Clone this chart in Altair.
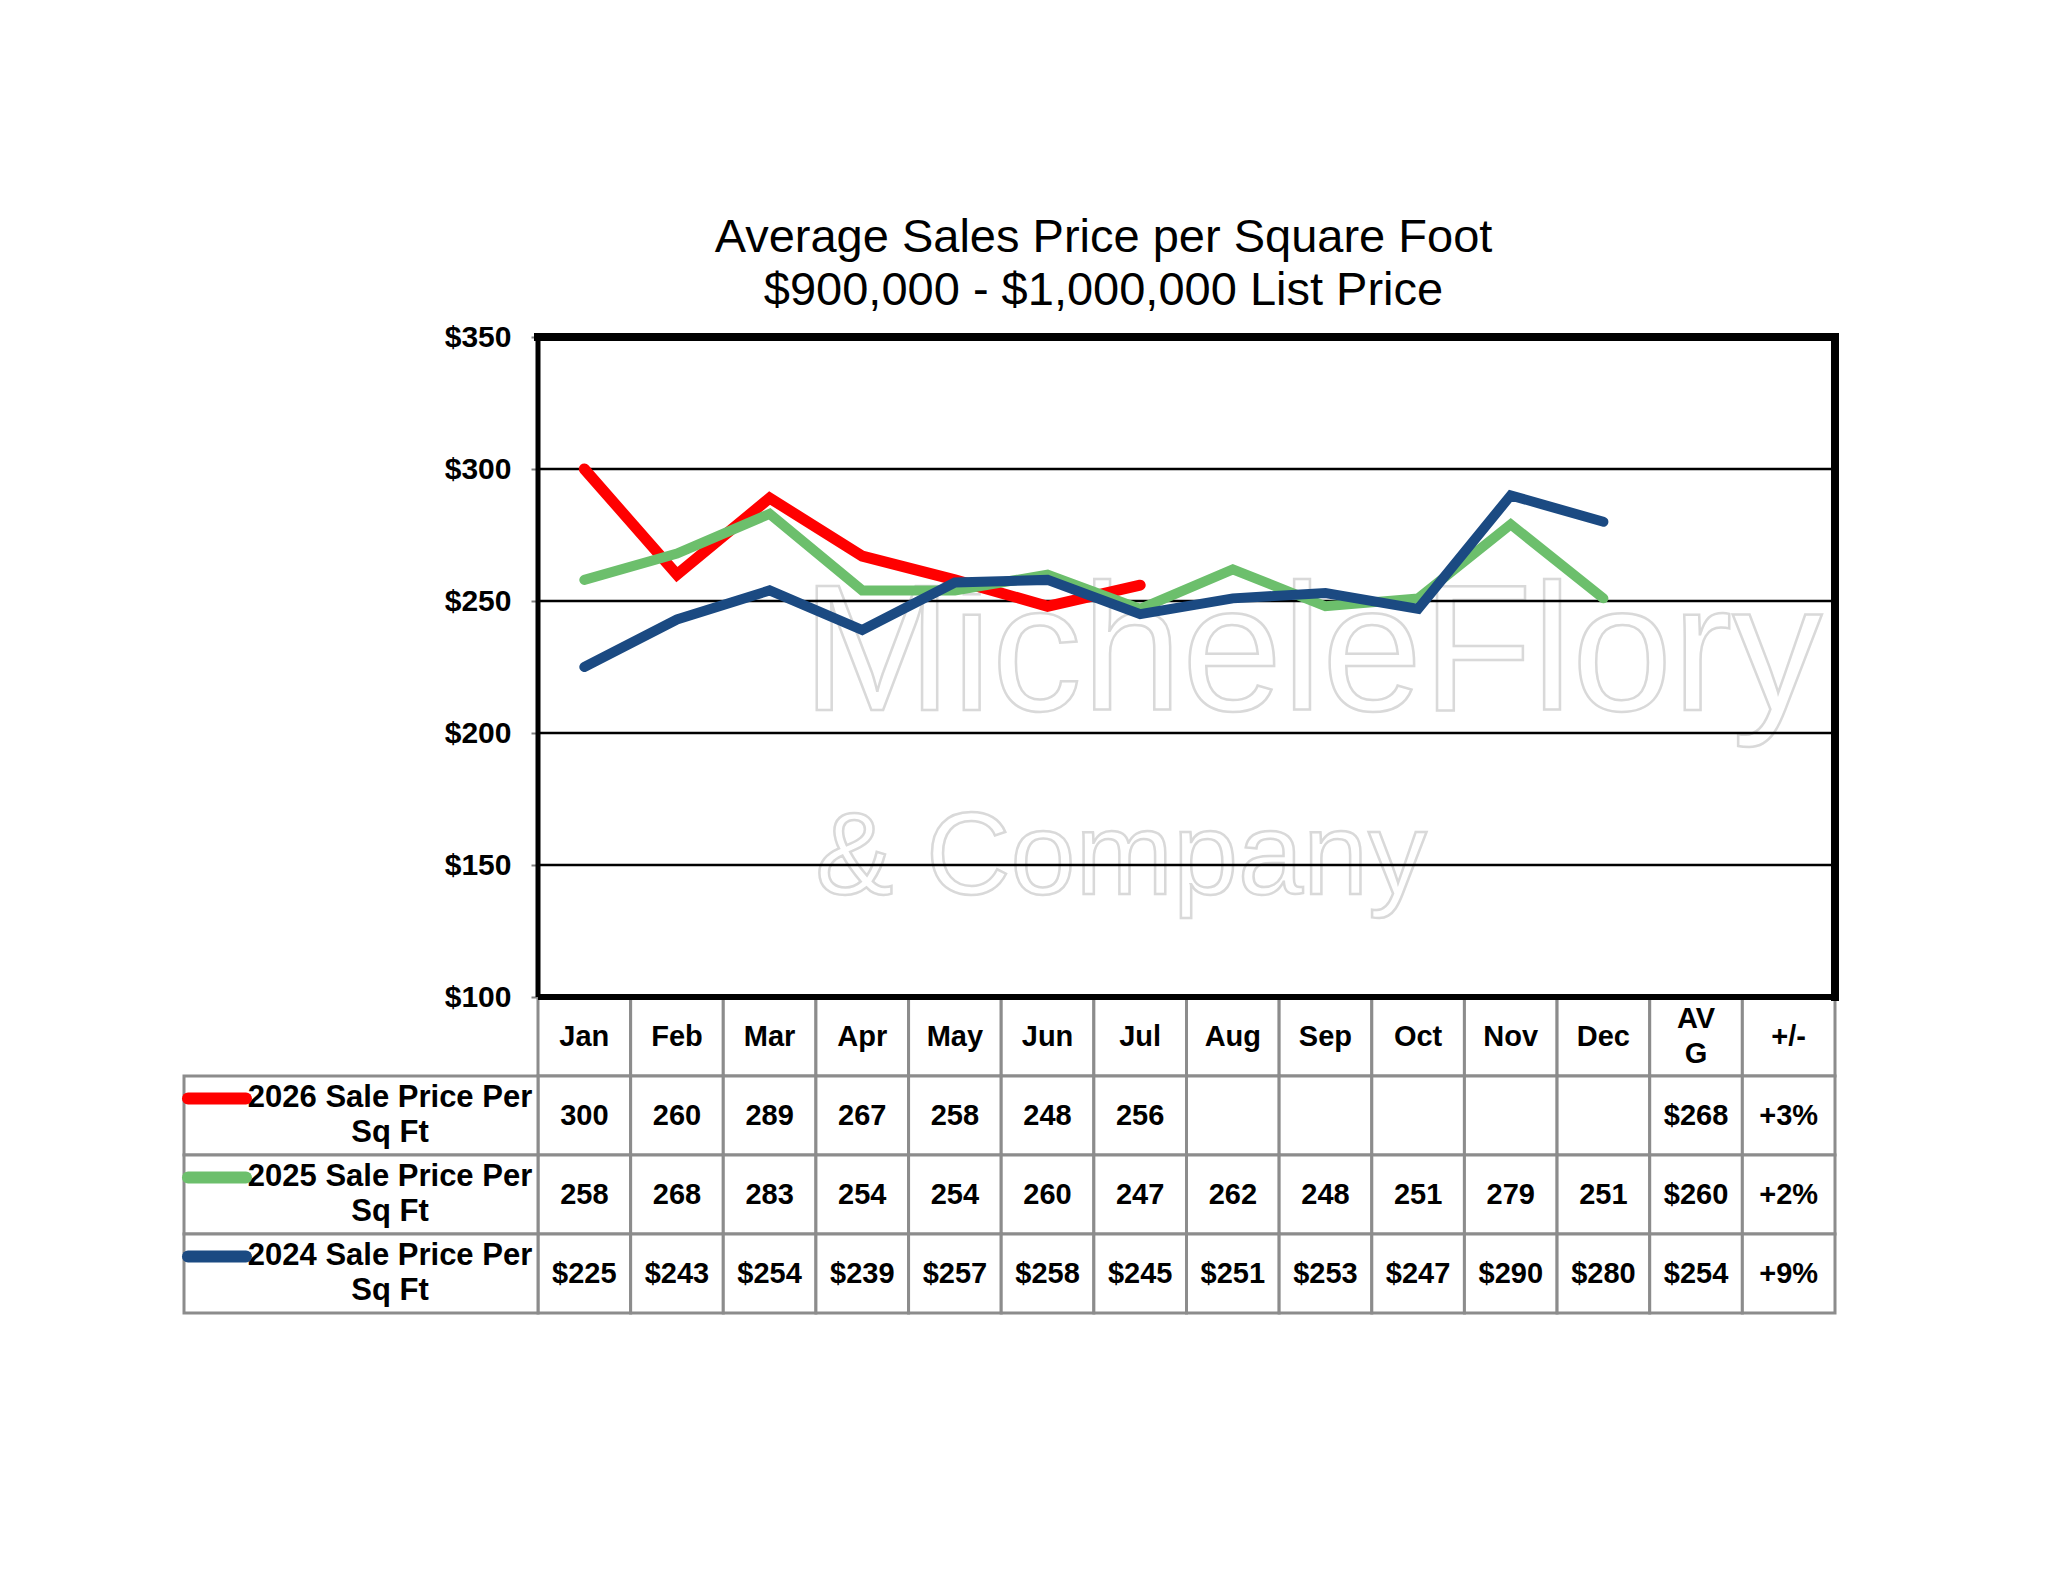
import altair as alt
import pandas as pd

# ---------------- data ----------------
months = ["Jan", "Feb", "Mar", "Apr", "May", "Jun", "Jul", "Aug", "Sep", "Oct", "Nov", "Dec"]
extra_headers = ["AV\nG", "+/-"]
series_names = ["2026", "2025", "2024"]
row_labels = ["2026 Sale Price Per\nSq Ft", "2025 Sale Price Per\nSq Ft", "2024 Sale Price Per\nSq Ft"]
price_2026 = [300, 260, 289, 267, 258, 248, 256]
price_2025 = [258, 268, 283, 254, 254, 260, 247, 262, 248, 251, 279, 251]
price_2024 = [225, 243, 254, 239, 257, 258, 245, 251, 253, 247, 290, 280]
avg_values = ["$268", "$260", "$254"]
change_values = ["+3%", "+2%", "+9%"]
value_prefix = ["", "", "$"]
series_colors = ["#FF0000", "#6CBF6C", "#1B4A82"]
series_widths = [11, 10, 10]
y_ticks = [100, 150, 200, 250, 300, 350]
grid_values = [150, 200, 250, 300]
title_lines = ["Average Sales Price per Square Foot", "$900,000 - $1,000,000 List Price"]
watermark_lines = ["MicheleFlory", "& Company"]

# ---------------- layout ----------------
FONT = "Liberation Sans, Arial, sans-serif"
PLOT_W = 1297
PLOT_H = 660
ROW_H = 79
LABEL_W = 354
NCOL = len(months) + len(extra_headers)
UNIT = PLOT_W / NCOL
XL = -LABEL_W / UNIT
W = LABEL_W + PLOT_W
H = PLOT_H + 4 * ROW_H

xs = alt.Scale(domain=[XL, NCOL], nice=False, zero=False)
ys = alt.Scale(domain=[100, 350], range=[PLOT_H, 0], nice=False, zero=False)
row_keys = ["hdr", "r0", "r1", "r2"]
yt = alt.Scale(domain=row_keys, range=[PLOT_H, H], paddingInner=0, paddingOuter=0)

yaxis = alt.Axis(
    values=y_ticks, labelExpr="'$' + datum.value", labelFont=FONT, labelFontSize=30,
    labelFontWeight="bold", labelColor="black", labelPadding=20, tickSize=7,
    tickColor="#808080", tickWidth=2, domain=False, grid=False, title=None,
    offset=-LABEL_W,
)

all_series = [price_2026, price_2025, price_2024]
line_rows = []
for name, vals in zip(series_names, all_series):
    for i, v in enumerate(vals):
        line_rows.append({"series": name, "month": months[i], "x": i + 0.5, "value": v})
line_df = pd.DataFrame(line_rows)

# watermark (decorative, behind everything)
wm1 = alt.Chart(pd.DataFrame({"t": [watermark_lines[0]]})).mark_text(
    font=FONT, fontSize=180, align="center", baseline="alphabetic",
    fillOpacity=0, stroke="#d9d9d9", strokeWidth=2.5,
).encode(text="t:N", x=alt.value(1128), y=alt.value(373))
wm2 = alt.Chart(pd.DataFrame({"t": [watermark_lines[1]]})).mark_text(
    font=FONT, fontSize=117, align="center", baseline="alphabetic",
    fillOpacity=0, stroke="#d9d9d9", strokeWidth=2.5,
).encode(text="t:N", x=alt.value(937), y=alt.value(557))

grid = alt.Chart(pd.DataFrame({"g": grid_values})).mark_rule(color="black", strokeWidth=2.5).encode(
    y=alt.Y("g:Q", scale=ys, axis=yaxis),
    x=alt.X(datum=0, scale=xs, axis=None),
    x2=alt.X2(datum=NCOL),
)

lines = []
for k, name in enumerate(series_names):
    lines.append(
        alt.Chart(line_df).transform_filter(alt.datum.series == name).mark_line(
            color=series_colors[k], strokeWidth=series_widths[k], strokeCap="round", strokeJoin="miter"
        ).encode(
            x=alt.X("x:Q", scale=xs, axis=None),
            y=alt.Y("value:Q", scale=ys, axis=yaxis),
            order="x:Q",
        )
    )

price_layer = alt.layer(wm1, wm2, grid, *lines)

# ---------------- table ----------------
cells = []
headers = months + extra_headers
for i, h in enumerate(headers):
    cells.append({"row": "hdr", "x0": i, "x1": i + 1, "xc": i + 0.5, "text": h})
for r, vals in enumerate(all_series):
    for i in range(len(months)):
        t = value_prefix[r] + str(vals[i]) if i < len(vals) else ""
        cells.append({"row": row_keys[r + 1], "x0": i, "x1": i + 1, "xc": i + 0.5, "text": t})
    cells.append({"row": row_keys[r + 1], "x0": 12, "x1": 13, "xc": 12.5, "text": avg_values[r]})
    cells.append({"row": row_keys[r + 1], "x0": 13, "x1": 14, "xc": 13.5, "text": change_values[r]})
cells_df = pd.DataFrame(cells)
cells_df["multi"] = cells_df["text"].str.contains("\n")

label_df = pd.DataFrame({
    "row": row_keys[1:],
    "text": row_labels,
    "series": series_names,
    "x0": [XL] * 3,
    "x1": [0] * 3,
    "xc": [XL + 206 / UNIT] * 3,
    "s0": [XL + 4 / UNIT] * 3,
    "s1": [XL + 62 / UNIT] * 3,
})

text_style = dict(font=FONT, fontWeight="bold", color="black", lineBreak="\n",
                  lineHeight=35, baseline="middle", align="center")

cell_rect = alt.Chart(cells_df).mark_rect(fill="white", stroke="#8c8c8c", strokeWidth=3).encode(
    x=alt.X("x0:Q", scale=xs, axis=None), x2="x1:Q",
    y=alt.Y("row:N", scale=yt, axis=None),
)
cell_text = alt.Chart(cells_df).transform_filter("!datum.multi").mark_text(
    fontSize=29, **text_style
).encode(
    x=alt.X("xc:Q", scale=xs, axis=None),
    y=alt.Y("row:N", scale=yt, axis=None),
    text="text:N",
)
cell_text_multi = alt.Chart(cells_df).transform_filter("datum.multi").mark_text(
    fontSize=29, dy=-17.5, **text_style
).encode(
    x=alt.X("xc:Q", scale=xs, axis=None),
    y=alt.Y("row:N", scale=yt, axis=None),
    text="text:N",
)
label_rect = alt.Chart(label_df).mark_rect(fill="white", stroke="#8c8c8c", strokeWidth=3).encode(
    x=alt.X("x0:Q", scale=xs, axis=None), x2="x1:Q",
    y=alt.Y("row:N", scale=yt, axis=None),
)
label_text = alt.Chart(label_df).mark_text(fontSize=31, dy=-17.5, **text_style).encode(
    x=alt.X("xc:Q", scale=xs, axis=None),
    y=alt.Y("row:N", scale=yt, axis=None),
    text="text:N",
)
swatch = alt.Chart(label_df).mark_rule(strokeWidth=12, strokeCap="round", yOffset=-17).encode(
    x=alt.X("s0:Q", scale=xs, axis=None), x2="s1:Q",
    y=alt.Y("row:N", scale=yt, axis=None),
    color=alt.Color("series:N", scale=alt.Scale(domain=series_names, range=series_colors), legend=None),
)
table_layer = alt.layer(cell_rect, label_rect, cell_text, cell_text_multi, label_text, swatch)

# ---------------- frame ----------------
one = pd.DataFrame({"a": [0]})
ys_frame = alt.Scale(domain=[100, 350], range=[PLOT_H, 0], nice=False, zero=False)
frame_top = alt.Chart(one).mark_rule(color="black", strokeWidth=8, strokeCap="square").encode(
    x=alt.X(datum=0, scale=xs, axis=None), x2=alt.X2(datum=NCOL),
    y=alt.Y(datum=350, scale=ys_frame, axis=None),
)
frame_right = alt.Chart(one).mark_rule(color="black", strokeWidth=8, strokeCap="square").encode(
    x=alt.X(datum=NCOL, scale=xs, axis=None),
    y=alt.Y(datum=100, scale=ys_frame, axis=None), y2=alt.Y2(datum=350),
)
frame_left = alt.Chart(one).mark_rule(color="black", strokeWidth=5).encode(
    x=alt.X(datum=0, scale=xs, axis=None),
    y=alt.Y(datum=100, scale=ys_frame, axis=None), y2=alt.Y2(datum=350),
)
frame_bottom = alt.Chart(one).mark_rule(color="black", strokeWidth=6).encode(
    x=alt.X(datum=0, scale=xs, axis=None), x2=alt.X2(datum=NCOL),
    y=alt.Y(datum=100, scale=ys_frame, axis=None),
)
frame_layer = alt.layer(frame_left, frame_bottom, frame_top, frame_right)

chart = alt.layer(price_layer, table_layer, frame_layer).resolve_scale(
    y="independent", color="independent"
).properties(
    width=W,
    height=H,
    background="white",
    title=alt.TitleParams(
        text=title_lines, font=FONT, fontSize=47, fontWeight="normal", color="black",
        anchor="middle", dx=94, offset=7, lineHeight=53,
    ),
    autosize=alt.AutoSizeParams(type="none"),
    padding={"left": 176, "top": 329, "right": 60, "bottom": 200},
).configure_view(stroke=None, strokeWidth=0)

chart.save("out.html", embed_options={"renderer": "svg", "actions": False})
